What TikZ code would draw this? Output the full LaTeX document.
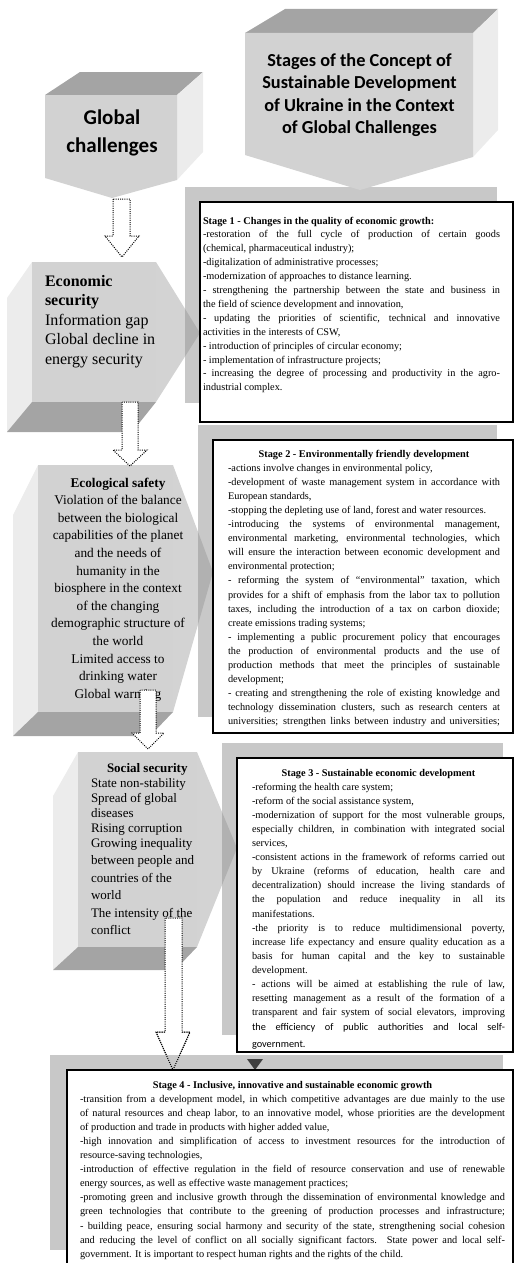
\documentclass[tikz,border=0pt]{standalone}
\usepackage{fontspec}
\setmainfont{Liberation Serif}
\newfontfamily\carlito{Carlito}
\definecolor{gFront}{HTML}{D2D2D2}
\definecolor{gDark}{HTML}{A4A4A4}
\definecolor{gLight}{HTML}{ECECEC}
\definecolor{gShadow}{HTML}{C8C8C8}
\definecolor{gWedge}{HTML}{909090}
\definecolor{gTri}{HTML}{3F3F3F}
\newcommand\myj[1]{\hbox to\hsize{\strut #1}}
\newcommand\myl[1]{\hbox to\hsize{\strut #1\hfil}}
\newcommand\myc[1]{\hbox to\hsize{\hfil\strut #1\hfil}}
\newcommand\tblock[2]{\vbox{\hsize=#1\relax #2}}
\begin{document}
\begin{tikzpicture}[x=1pt,y=-1pt,
  front/.style={fill=gFront},
  darkface/.style={fill=gDark},
  lightface/.style={fill=gLight},
  wedge/.style={fill=gWedge, fill opacity=0.4},
  shadowrect/.style={fill=gShadow},
  stagebox/.style={draw=black, line width=1.8pt, fill=white},
  dotarrow/.style={draw=black, line width=1pt, dash pattern=on 1pt off 1.2pt, fill=white},
  dotline/.style={draw=black, line width=1pt, dash pattern=on 1pt off 1.2pt},
  txt/.style={inner sep=0pt, outer sep=0pt},
  body/.style={txt, anchor=north west, font=\fontsize{10.3}{14.1}\selectfont},
]
\useasboundingbox (0,0) rectangle (514,1263);

% shadow rectangles of stages 1-3
\fill[shadowrect] (185,187) rectangle (497,403);
\fill[shadowrect] (198,425) rectangle (497,717);
\fill[shadowrect] (222,743) rectangle (503,1035);

% Global challenges block
\fill[darkface] (45,95) -- (80,72) -- (203,72) -- (177,95) -- cycle;
\fill[lightface] (177,95) -- (203,72) -- (203,152) -- (177,180) -- cycle;
\fill[front] (45,95) -- (177,95) -- (177,180) -- (112,198) -- (45,178) -- cycle;
\node[txt, anchor=north, font=\carlito\bfseries\fontsize{21}{28}\selectfont] (gc) at (112,104.4)
  {\tblock{140pt}{\myc{Global}\myc{challenges}}};

% Stages title block
\fill[darkface] (245,33) -- (285,9) -- (498,9) -- (473,33) -- cycle;
\fill[lightface] (473,33) -- (498,9) -- (498,130) -- (473,157) -- cycle;
\fill[front] (245,33) -- (473,33) -- (473,157) -- (360,190) -- (245,155) -- cycle;
\node[txt, anchor=north, font=\carlito\bfseries\fontsize{18.3}{22.6}\selectfont] (st) at (359.5,50.2)
  {\tblock{226pt}{\myc{Stages of the Concept of}\myc{Sustainable Development}\myc{of Ukraine in the Context}\myc{of Global Challenges}}};

% Economic security block
\fill[lightface] (7,298) -- (32,262) -- (32,402) -- (7,432) -- cycle;
\fill[darkface] (7,432) -- (32,402) -- (156,402) -- (132,432) -- cycle;
\fill[front] (32,262) rectangle (156,402);
\fill[wedge] (156,262) -- (200,333) -- (156,402) -- cycle;
\node[txt, anchor=north west, font=\fontsize{16}{19.5}\selectfont] (eco) at (45,272.35)
  {\tblock{130pt}{\myl{\textbf{Economic}}\myl{\textbf{security}}\myl{Information gap}\myl{Global decline in}\myl{energy security}}};

% Ecological safety block
\fill[lightface] (13,515) -- (38,465) -- (38,712) -- (13,736) -- cycle;
\fill[darkface] (13,736) -- (38,712) -- (173,712) -- (150,736) -- cycle;
\fill[front] (38,465) rectangle (173,712);
\fill[wedge] (173,465) -- (213,572) -- (173,712) -- cycle;
\node[txt, anchor=north, font=\fontsize{13.3}{17.6}\selectfont] (ecl) at (118,474.7)
  {\tblock{150pt}{\myc{\textbf{Ecological safety}}\myc{Violation of the balance}\myc{between the biological}\myc{capabilities of the planet}\myc{and the needs of}\myc{humanity in the}\myc{biosphere in the context}\myc{of the changing}\myc{demographic structure of}\myc{the world}\myc{Limited access to}\myc{drinking water}\myc{Global warming}}};

% Social security block
\fill[lightface] (53,796) -- (78,752) -- (78,947) -- (53,970) -- cycle;
\fill[darkface] (53,970) -- (78,947) -- (197,947) -- (175,970) -- cycle;
\fill[front] (78,752) rectangle (197,947);
\fill[wedge] (197,752) -- (237,848) -- (197,947) -- cycle;
\node[txt, anchor=north west, font=\fontsize{13}{15}\selectfont] (soc) at (91,761.5)
  {\tblock{125pt}{\myl{\hskip16pt\textbf{Social security}}\myl{State non-stability}\myl{Spread of global}\myl{diseases}\myl{Rising corruption}\myl{Growing inequality}\fontsize{13}{17.5}\selectfont\myl{between people and}\myl{countries of the}\myl{world}\myl{The intensity of the}\myl{conflict}}};

% dotted block arrows
\draw[dotarrow] (113,199) -- (113,236) -- (105,236) -- (122,257) -- (139,236) -- (130,236) -- (130,199) -- cycle;
\draw[dotarrow] (122,402) -- (122,450) -- (113,450) -- (130,466) -- (147,450) -- (138,450) -- (138,402) -- cycle;
\draw[dotarrow] (140,690) -- (140,733) -- (132,733) -- (148,749) -- (164,733) -- (156,733) -- (156,690) -- cycle;
\draw[dotarrow] (165,918) -- (165,1032) -- (156,1032) -- (173,1070) -- (190,1032) -- (182,1032) -- (182,918) -- cycle;

% stage 4 shadow, arrow outline over it, marker triangle
\fill[shadowrect] (50,1055) rectangle (503,1250);
\draw[dotline] (165,1032) -- (156,1032) -- (173,1070) -- (190,1032) -- (182,1032);
\fill[gTri] (247,1059) -- (263,1059) -- (255,1070) -- cycle;

% stage boxes
\draw[stagebox] (200,202) rectangle (513,422);
\draw[stagebox] (213,440) rectangle (513,733);
\draw[stagebox] (237,758) rectangle (513,1052);
\draw[stagebox] (67,1070) rectangle (513,1300);

\node[body, font=\fontsize{10.3}{13.9}\selectfont] (s1) at (203,214.27) {\tblock{297pt}{%
\myl{\textbf{Stage 1 - Changes in the quality of economic growth:}}
\myj{-restoration of the full cycle of production of certain goods}
\myl{(chemical, pharmaceutical industry);}
\myl{-digitalization of administrative processes;}
\myl{-modernization of approaches to distance learning.}
\myj{- strengthening the partnership between the state and business in}
\myl{the field of science development and innovation,}
\myj{- updating the priorities of scientific, technical and innovative}
\myl{activities in the interests of CSW,}
\myl{- introduction of principles of circular economy;}
\myl{- implementation of infrastructure projects;}
\myj{- increasing the degree of processing and productivity in the agro-}
\myl{industrial complex.}}};

\node[body] (s2) at (228,447.13) {\tblock{272pt}{%
\myc{\textbf{Stage 2 - Environmentally friendly development}}
\myl{-actions involve changes in environmental policy,}
\myj{-development of waste management system in accordance with}
\myl{European standards,}
\myl{-stopping the depleting use of land, forest and water resources.}
\myj{-introducing the systems of environmental management,}
\myj{environmental marketing, environmental technologies, which}
\myj{will ensure the interaction between economic development and}
\myl{environmental protection;}
\myj{- reforming the system of “environmental” taxation, which}
\myj{provides for a shift of emphasis from the labor tax to pollution}
\myj{taxes, including the introduction of a tax on carbon dioxide;}
\myl{create emissions trading systems;}
\myj{- implementing a public procurement policy that encourages}
\myj{the production of environmental products and the use of}
\myj{production methods that meet the principles of sustainable}
\myl{development;}
\myj{- creating and strengthening the role of existing knowledge and}
\myj{technology dissemination clusters, such as research centers at}
\myj{universities; strengthen links between industry and universities;}}};

\node[body] (s3) at (252,766.13) {\tblock{253pt}{%
\myc{\textbf{Stage 3 - Sustainable economic development}}
\myl{-reforming the health care system;}
\myl{-reform of the social assistance system,}
\myj{-modernization of support for the most vulnerable groups,}
\myj{especially children, in combination with integrated social}
\myl{services,}
\myj{-consistent actions in the framework of reforms carried out}
\myj{by Ukraine (reforms of education, health care and}
\myj{decentralization) should increase the living standards of}
\myj{the population and reduce inequality in all its}
\myl{manifestations.}
\myj{-the priority is to reduce multidimensional poverty,}
\myj{increase life expectancy and ensure quality education as a}
\myj{basis for human capital and the key to sustainable}
\myl{development.}
\myj{- actions will be aimed at establishing the rule of law,}
\myj{resetting management as a result of the formation of a}
\myj{transparent and fair system of social elevators, improving}
{\carlito\fontsize{10.3}{15}\selectfont\myj{the efficiency of public authorities and local self-}}
{\carlito\fontsize{10.3}{17}\selectfont\myl{government.}}}};

\node[body] (s4) at (80,1078.13) {\tblock{425pt}{%
\myc{\textbf{Stage 4 - Inclusive, innovative and sustainable economic growth}}
\myj{-transition from a development model, in which competitive advantages are due mainly to the use}
\myj{of natural resources and cheap labor, to an innovative model, whose priorities are the development}
\myl{of production and trade in products with higher added value,}
\myj{-high innovation and simplification of access to investment resources for the introduction of}
\myl{resource-saving technologies,}
\myj{-introduction of effective regulation in the field of resource conservation and use of renewable}
\myl{energy sources, as well as effective waste management practices;}
\myj{-promoting green and inclusive growth through the dissemination of environmental knowledge and}
\myj{green technologies that contribute to the greening of production processes and infrastructure;}
\myj{- building peace, ensuring social harmony and security of the state, strengthening social cohesion}
\myj{and reducing the level of conflict on all socially significant factors. State power and local self-}
\myl{government. It is important to respect human rights and the rights of the child.}}};
\end{tikzpicture}
\end{document}
